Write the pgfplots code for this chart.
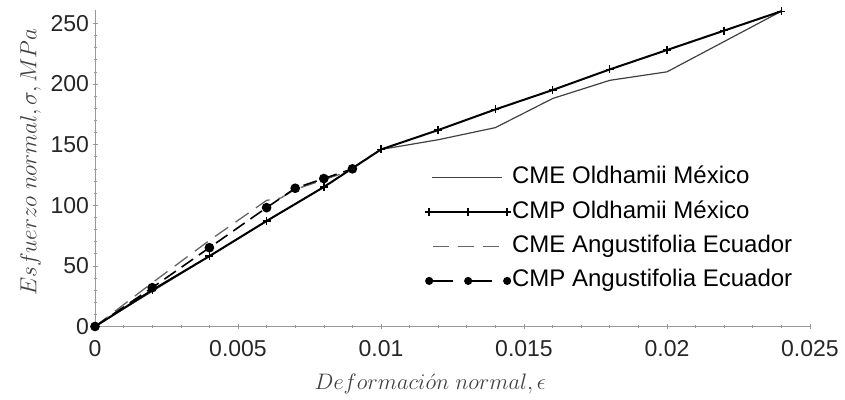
\documentclass[border=0pt]{standalone}
\usepackage{graphicx}
\usepackage{fontspec}
\setmainfont{Liberation Sans}
\usepackage{pgfplots}
\pgfplotsset{compat=1.18}
\pgfplotsset{
  legplain/.style={legend image code/.code={\draw[##1] (3pt,0pt) -- (73pt,0pt);}},
  legdash/.style={legend image code/.code={\draw[##1] (4pt,0pt) -- (74pt,0pt);}},
  legmarks/.style={legend image code/.code={\draw[##1] plot coordinates {(0pt,0pt) (39pt,0pt) (78pt,0pt)};}},
  legdots/.style={legend image code/.code={\draw[##1, dash pattern=on 24pt off 15pt, mark size=3.2pt] plot coordinates {(0pt,0pt) (39pt,0pt) (78pt,0pt)};}},
}

\begin{document}
\begin{tikzpicture}
\begin{axis}[
  scale only axis, width=715pt, height=316.5pt,
  xmin=0, xmax=0.025, ymin=0, ymax=261,
  axis x line=bottom, axis y line=left,
  axis line style={-, draw=gray!80, line width=0.8pt},
  xtick={0,0.005,0.01,0.015,0.02,0.025},
  xticklabels={0,0.005,0.01,0.015,0.02,0.025},
  scaled x ticks=false,
  ytick={0,50,...,250},
  minor x tick num=4, minor y tick num=4,
  tick align=center,
  major tick length=5pt, minor tick length=3pt,
  tick style={gray!80, line width=0.6pt},
  every tick label/.append style={font=\fontsize{23}{27}\selectfont, text=black!85},
  /pgf/number format/assume math mode=true,
  xticklabel shift=8pt,
  xlabel={\scalebox{1.08}{$Deformaci\acute{o}n\ normal, \epsilon$}},
  ylabel={\scalebox{1.12}{$Esfuerzo\ normal, \sigma, MPa$}},
  every axis x label/.style={at={(rel axis cs:0.469,-0.18)}, anchor=center,
    font=\fontsize{20.74}{24}\selectfont, text=black!75},
  every axis y label/.style={at={(rel axis cs:-0.09,0.52)}, rotate=90, anchor=center,
    font=\fontsize{20.74}{24}\selectfont, text=black!75},
  legend cell align=left,
  legend style={at={(rel axis cs:0.4615,0.525)}, anchor=north west, draw=none, fill=none,
    inner sep=0pt, font=\fontsize{24}{28}\selectfont,
    nodes={text height=18pt, text depth=6pt, inner ysep=5.2pt, inner xsep=1pt}},
  clip=false
]
% CME Oldhamii Mexico
\addplot[draw=black!75, line width=1.2pt, legplain]
  coordinates {
  (0,0) (0.002,29) (0.004,58) (0.006,87) (0.008,115) (0.01,146)
  (0.012,154) (0.014,164) (0.016,188) (0.018,203) (0.02,210) (0.022,235) (0.024,260)
};
\addlegendentry{CME Oldhamii México}
% CMP Oldhamii Mexico
\addplot[black, line width=2pt, mark=+, mark size=4pt, mark options={line width=1.4pt}, legmarks]
  coordinates {
  (0,0) (0.002,30) (0.004,58) (0.006,87) (0.008,115) (0.01,146)
  (0.012,162) (0.014,179) (0.016,195) (0.018,212) (0.02,228) (0.022,244) (0.024,260)
};
\addlegendentry{CMP Oldhamii México}
% CME Angustifolia Ecuador
\addplot[draw=black!60, line width=1.3pt, dash pattern=on 16pt off 9pt, legdash]
  coordinates {
  (0,0) (0.002,36) (0.004,71) (0.006,104) (0.0065,106) (0.007,113) (0.008,121) (0.009,129)
};
\addlegendentry{CME Angustifolia Ecuador}
% CMP Angustifolia Ecuador
\addplot[black, line width=1.6pt, dash pattern=on 14pt off 7pt, mark=*, mark size=4pt,
  mark options={solid}, legdots]
  coordinates {
  (0,0) (0.002,32) (0.004,65) (0.006,98) (0.007,114) (0.008,122) (0.009,130)
};
\addlegendentry{CMP Angustifolia Ecuador}
\coordinate (bbsw) at (rel axis cs:-0.1329,-0.2322);
\coordinate (bbne) at (rel axis cs:1.049,1.0316);
\end{axis}
\pgfresetboundingbox
\path[use as bounding box] (bbsw) rectangle (bbne);
\end{tikzpicture}
\end{document}
